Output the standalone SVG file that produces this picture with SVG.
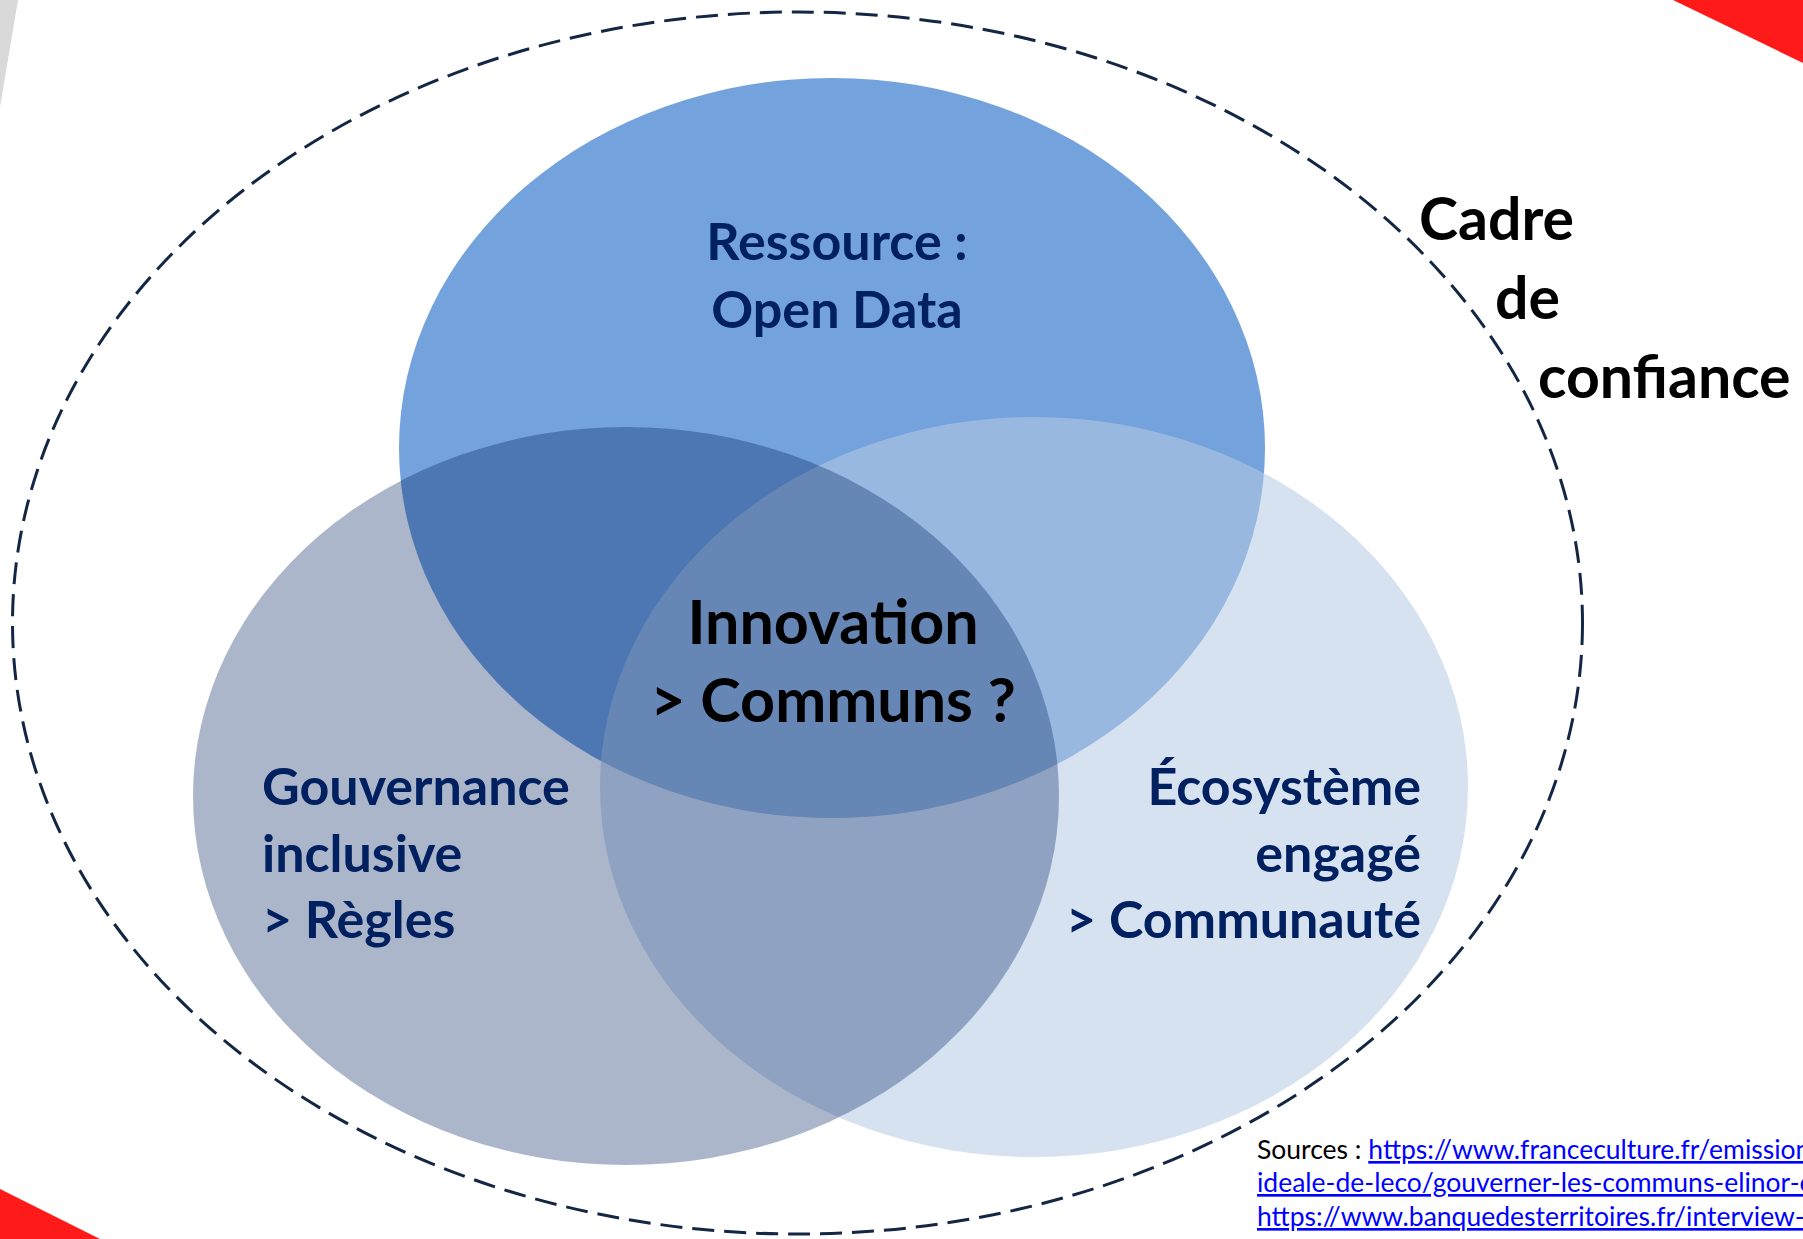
<svg xmlns="http://www.w3.org/2000/svg" width="1803" height="1239" viewBox="0 0 1803 1239">
<style>
.lbl{font-family:Lato,"Open Sans","Liberation Sans",sans-serif;font-weight:700;font-size:52px;fill:#002060}
.big{font-family:Lato,"Open Sans","Liberation Sans",sans-serif;font-weight:700;font-size:61px;fill:#000}
.cadre{font-family:Lato,"Open Sans","Liberation Sans",sans-serif;font-weight:700;font-size:59px;fill:#000}
.src{font-family:Lato,"Open Sans","Liberation Sans",sans-serif;font-size:26.5px;fill:#000}
.lnk{fill:#0000FF;text-decoration:underline}
</style>
<rect width="1803" height="1239" fill="#FFFFFF"/>
<g id="decor">
<polygon points="0,0 18,0 0,107" fill="#D9D9D9"/>
<polygon points="1673,0 1803,0 1803,63" fill="#FF1A1A"/>
<polygon points="0,1189 0,1239 100,1239" fill="#FF1A1A"/>
</g>
<g id="cadre-de-confiance">
<ellipse cx="797.5" cy="623" rx="785" ry="611" fill="none" stroke="#132744" stroke-width="3" stroke-dasharray="22 10"/>
<text class="cadre" x="1419" y="240">Cadre</text>
<text class="cadre" x="1495" y="319">de</text>
<text class="cadre" x="1538" y="398">confiance</text>
</g>
<g id="ressource">
<ellipse cx="832" cy="448" rx="433" ry="370" fill="#73A2DC"/>
</g>
<g id="ecosysteme">
<ellipse cx="1034" cy="787" rx="434" ry="370" fill="#B6CAE4" fill-opacity="0.55"/>
</g>
<g id="gouvernance">
<ellipse cx="626" cy="796" rx="433" ry="369" fill="#002060" fill-opacity="0.33"/>
</g>
<g id="labels">
<text class="lbl" text-anchor="middle" x="837" y="260">Ressource :</text>
<text class="lbl" text-anchor="middle" x="837" y="328">Open Data</text>
<text class="lbl" x="262" y="805">Gouvernance</text>
<text class="lbl" x="262" y="872">inclusive</text>
<text class="lbl" x="262" y="938">&gt; Règles</text>
<text class="lbl" text-anchor="end" x="1421" y="805">Écosystème</text>
<text class="lbl" text-anchor="end" x="1421" y="872">engagé</text>
<text class="lbl" text-anchor="end" x="1421" y="938">&gt; Communauté</text>
</g>
<g id="innovation">
<text class="big" text-anchor="middle" x="833" y="644">Innovation</text>
<text class="big" text-anchor="middle" x="833" y="722">&gt; Communs ?</text>
</g>
<g id="sources">
<text class="src" x="1257" y="1159">Sources : <tspan class="lnk">https://www.franceculture.fr/emission</tspan></text>
<text class="src lnk" x="1257" y="1192">ideale-de-leco/gouverner-les-communs-elinor-o</text>
<text class="src lnk" x="1257" y="1226">https://www.banquedesterritoires.fr/interview-</text>
</g>
</svg>
